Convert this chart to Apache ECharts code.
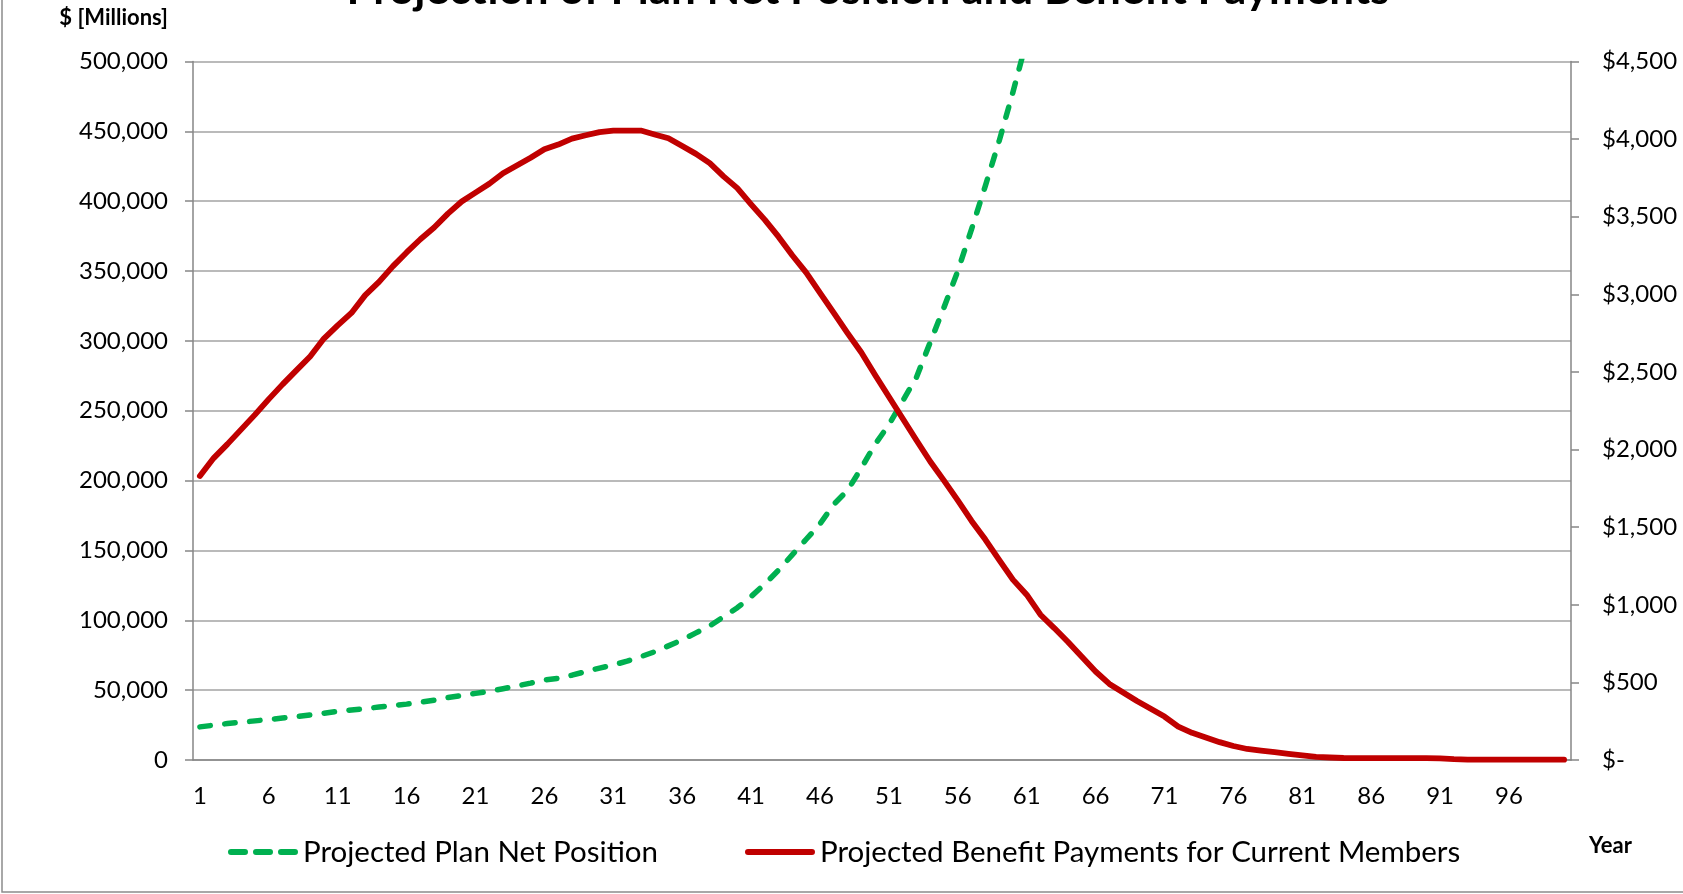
<!DOCTYPE html>
<html>
<head>
<meta charset="utf-8">
<script src="https://cdn.jsdelivr.net/npm/echarts@6/dist/echarts.min.js"></script>
<style>
  html, body { margin: 0; padding: 0; background: #ffffff; }
  #chart { width: 1683px; height: 894px; }
</style>
</head>
<body>
<div id="chart"></div>
<script>
// Projection years 1..100 (category axis)
const years = Array.from({ length: 100 }, (_, i) => String(i + 1));

// Projected Plan Net Position, $ millions (left axis); rises past the 500,000 axis top after year 60
const netPosition = [
  23700, 24900, 26100, 27100, 28000, 29000, 30000, 31000, 32300, 33500,
  34800, 35800, 36800, 37900, 39000, 40000, 41300, 42800, 44700, 46200,
  47700, 49100, 51000, 53000, 55000, 57300, 58500, 60700, 63300, 65800,
  68000, 70800, 74000, 77500, 81700, 86000, 91000, 96000, 102500, 109000,
  117000, 126000, 136000, 147000, 158000, 169000, 183000, 193000, 209000, 226000,
  240000, 257000, 274000, 299000, 324000, 350000, 380000, 411000, 443000, 478000,
  515000
];

// Projected Benefit Payments for Current Members, $ millions (right axis)
const benefitPayments = [
  1830, 1945, 2035, 2130, 2225, 2325, 2420, 2510, 2600, 2715,
  2800, 2880, 2995, 3080, 3180, 3270, 3355, 3430, 3520, 3598,
  3655, 3712, 3780, 3830, 3880, 3935, 3965, 4003, 4025, 4045,
  4055, 4055, 4055, 4030, 4006, 3955, 3905, 3845, 3760, 3684,
  3580, 3480, 3370, 3250, 3140, 3010, 2880, 2750, 2625, 2480,
  2340, 2200, 2060, 1923, 1800, 1672, 1540, 1420, 1290, 1162,
  1065, 936, 850, 760, 665, 570, 490, 435, 380, 330,
  280, 215, 175, 145, 115, 90, 71, 60, 50, 40,
  30, 20, 16, 13, 12, 12, 12, 12, 12, 12,
  11, 6, 3, 2, 2, 2, 2, 2, 2, 2
];

const seriesNames = ['Projected Plan Net Position', 'Projected Benefit Payments for Current Members'];
const titleText = 'Projection of Plan Net Position and Benefit Payments';
const leftAxisTitle = '$ [Millions]';
const xAxisTitle = 'Year';

const FONT = 'Lato';
const AXIS_GREY = '#868686';
const GRID_GREY = '#a3a3a3';
const GREEN = '#00B050';
const RED = '#C00000';

// Legend keys: three round-capped dashes, and one solid round-capped bar
const DASHED_KEY = 'path://M3,0h14a3,3 0 0 1 0,6h-14a3,3 0 0 1 0,-6Z' +
  'M28,0h14a3,3 0 0 1 0,6h-14a3,3 0 0 1 0,-6Z' +
  'M53,0h14a3,3 0 0 1 0,6h-14a3,3 0 0 1 0,-6Z';
const SOLID_KEY = 'path://M3,0h64a3,3 0 0 1 0,6h-64a3,3 0 0 1 0,-6Z';

const chart = echarts.init(document.getElementById('chart'), null, { renderer: 'canvas' });

chart.setOption({
  animation: false,
  backgroundColor: '#ffffff',
  textStyle: { fontFamily: FONT, color: '#000000' },
  grid: { left: 193, right: 112, top: 61.5, bottom: 134, containLabel: false },
  graphic: [
    {
      type: 'rect', silent: true, z: -10,
      shape: { x: 2, y: -10, width: 1700, height: 902 },
      style: { fill: null, stroke: '#8c8c8c', lineWidth: 1.5 }
    },
    {
      type: 'text', silent: true,
      x: 868, y: -10,
      style: { text: titleText, font: 'bold 44px ' + FONT, fill: '#000', align: 'center', verticalAlign: 'middle' }
    },
    {
      type: 'text', silent: true,
      x: 168, y: 18,
      style: { text: leftAxisTitle, font: 'bold 22px ' + FONT, fill: '#000', align: 'right', verticalAlign: 'middle' }
    },
    {
      type: 'text', silent: true,
      x: 1589, y: 846,
      style: { text: xAxisTitle, font: 'bold 22px ' + FONT, fill: '#000', align: 'left', verticalAlign: 'middle' }
    }
  ],
  legend: {
    show: true,
    orient: 'horizontal',
    left: 223, top: 832,
    itemWidth: 70, itemHeight: 6.5, itemGap: 87,
    textStyle: { fontFamily: FONT, fontSize: 29.5, color: '#000' },
    itemStyle: { borderWidth: 0 },
    data: [
      { name: seriesNames[0], icon: DASHED_KEY },
      { name: seriesNames[1], icon: SOLID_KEY }
    ]
  },
  xAxis: {
    type: 'category',
    data: years,
    boundaryGap: true,
    axisLine: { lineStyle: { color: AXIS_GREY, width: 1.5 } },
    axisTick: { interval: 4, length: 8, lineStyle: { color: AXIS_GREY, width: 1.5 } },
    axisLabel: { interval: 4, margin: 24, fontSize: 24, fontFamily: FONT, color: '#000' },
    splitLine: { show: false }
  },
  yAxis: [
    {
      type: 'value', position: 'left',
      min: 0, max: 500000, interval: 50000,
      axisLine: { show: true, lineStyle: { color: AXIS_GREY, width: 1.5 } },
      axisTick: { show: true, length: 8, lineStyle: { color: AXIS_GREY, width: 1.5 } },
      axisLabel: {
        margin: 25, fontSize: 24, fontFamily: FONT, color: '#000',
        formatter: v => v.toLocaleString('en-US')
      },
      splitLine: { show: true, lineStyle: { color: GRID_GREY, width: 1.5 } }
    },
    {
      type: 'value', position: 'right',
      min: 0, max: 4500, interval: 500,
      axisLine: { show: true, lineStyle: { color: AXIS_GREY, width: 1.5 } },
      axisTick: { show: true, length: 8, lineStyle: { color: AXIS_GREY, width: 1.5 } },
      axisLabel: {
        margin: 31, fontSize: 24, fontFamily: FONT, color: '#000',
        formatter: v => (v === 0 ? '$-' : '$' + v.toLocaleString('en-US'))
      },
      splitLine: { show: false }
    }
  ],
  series: [
    {
      name: seriesNames[0],
      type: 'line',
      yAxisIndex: 0,
      data: netPosition,
      symbol: 'none',
      clip: true,
      z: 2,
      itemStyle: { color: GREEN },
      lineStyle: { color: GREEN, width: 5.5, type: [10.5, 14.5], cap: 'round', join: 'round' }
    },
    {
      name: seriesNames[1],
      type: 'line',
      yAxisIndex: 1,
      data: benefitPayments,
      symbol: 'none',
      clip: true,
      z: 3,
      itemStyle: { color: RED },
      lineStyle: { color: RED, width: 5.8, cap: 'round', join: 'round' }
    }
  ]
});
</script>
</body>
</html>
